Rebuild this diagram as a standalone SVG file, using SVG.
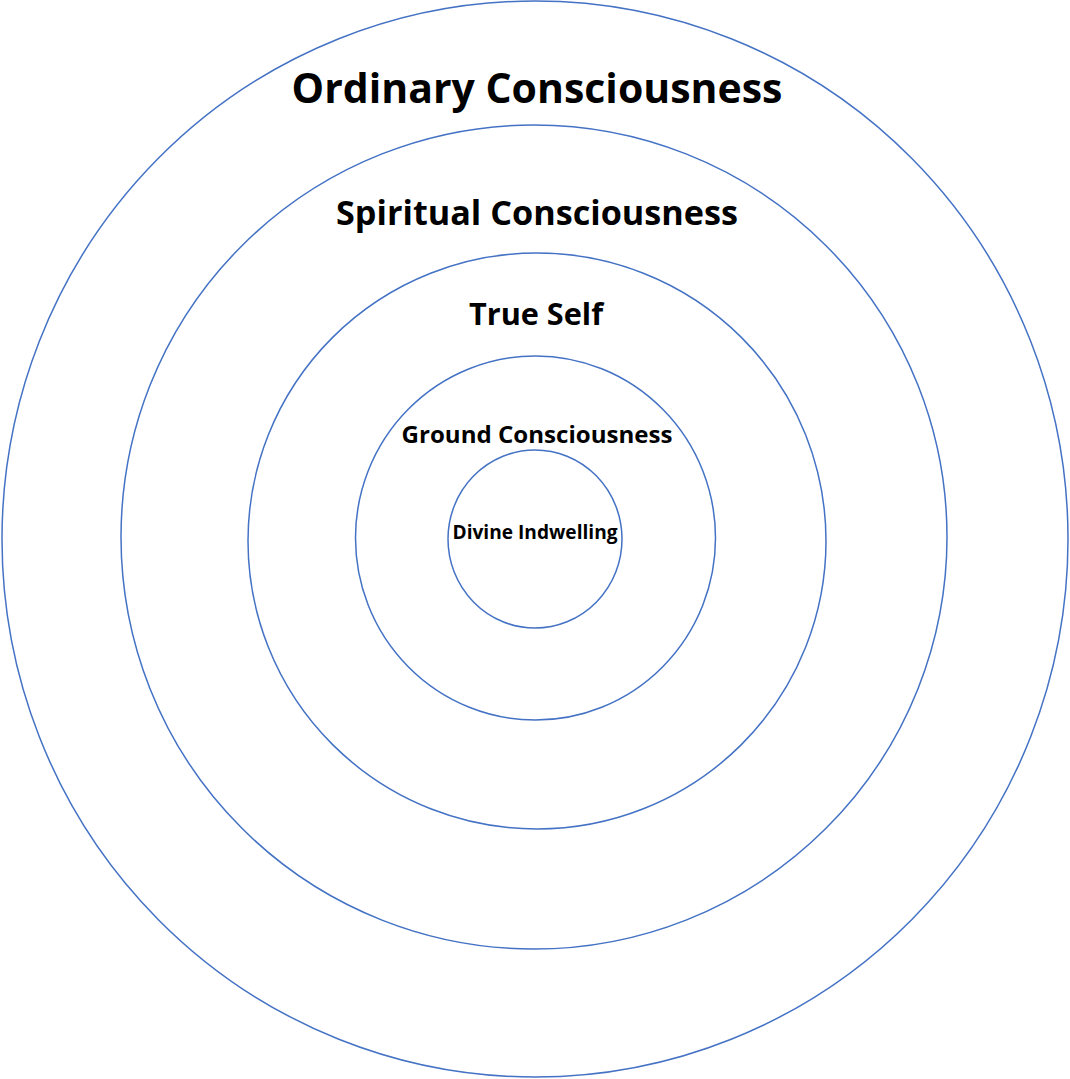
<svg xmlns="http://www.w3.org/2000/svg" width="1070" height="1079" viewBox="0 0 1070 1079">
<style>
ellipse{fill:none;stroke:#4472c4;stroke-width:1.5}
text{font-family:"Open Sans","Liberation Sans",sans-serif;font-weight:bold;fill:#000;text-anchor:middle}
</style>
<rect width="1070" height="1079" fill="#fff"/>
<g id="ordinary"><ellipse cx="535" cy="539" rx="533" ry="538"/><text x="537" y="103" font-size="42" textLength="491" lengthAdjust="spacingAndGlyphs">Ordinary Consciousness</text></g>
<g id="spiritual"><ellipse cx="534" cy="537" rx="413" ry="412"/><text x="537" y="225" font-size="34" textLength="402" lengthAdjust="spacingAndGlyphs">Spiritual Consciousness</text></g>
<g id="trueself"><ellipse cx="537" cy="541" rx="289" ry="288"/><text x="536" y="325" font-size="31" textLength="134" lengthAdjust="spacingAndGlyphs">True Self</text></g>
<g id="ground"><ellipse cx="535.5" cy="538" rx="180" ry="182"/><text x="537" y="443" font-size="23" textLength="271" lengthAdjust="spacingAndGlyphs">Ground Consciousness</text></g>
<g id="divine"><ellipse cx="535" cy="539" rx="87" ry="89"/><text x="535" y="539" font-size="19" textLength="165" lengthAdjust="spacingAndGlyphs">Divine Indwelling</text></g>
<g id="connectors"/>
</svg>
